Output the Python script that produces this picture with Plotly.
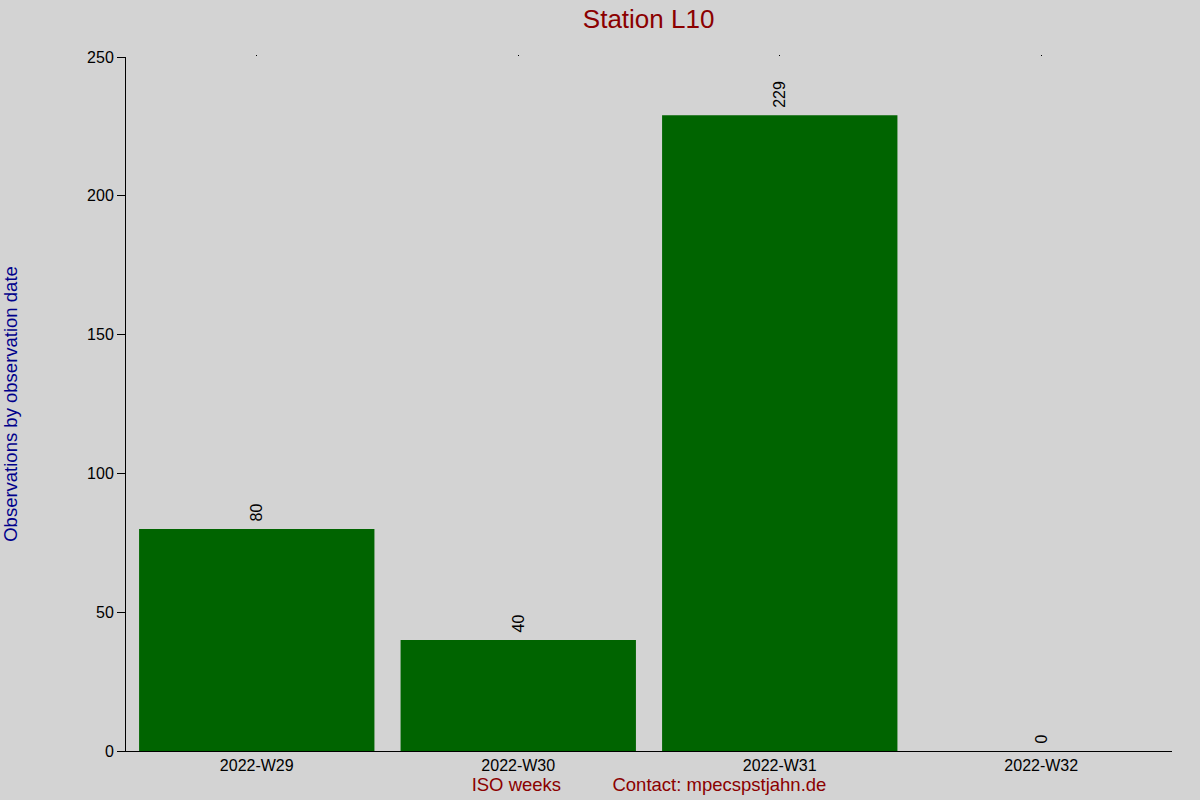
import plotly.graph_objects as go

categories = ["2022-W29", "2022-W30", "2022-W31", "2022-W32"]
values = [80, 40, 229, 0]
y_ticks = [0, 50, 100, 150, 200, 250]

fig = go.Figure()
fig.add_trace(go.Bar(
    x=categories, y=values, width=0.9,
    marker=dict(color="#006400", line=dict(width=0)),
    text=["\u00a0" + str(v) for v in values], textposition="outside",
    textangle=-90, cliponaxis=False,
    textfont=dict(size=16, color="black", family="Liberation Sans, Arial"),
))
# invisible trace on top axis for small mirrored tick dots
fig.add_trace(go.Scatter(x=categories, y=[None]*4, xaxis="x2", showlegend=False, hoverinfo="skip"))

fig.update_layout(
    width=1200, height=800,
    paper_bgcolor="#d3d3d3", plot_bgcolor="#d3d3d3",
    margin=dict(l=126, r=28, t=57, b=49),
    font=dict(family="Liberation Sans, Arial", size=16, color="black"),
    title=dict(text="Station L10", x=0.5405, xanchor="center", y=0.977, yanchor="middle",
               font=dict(size=26, color="#8b0000")),
    showlegend=False,
    bargap=0.1,
    xaxis=dict(type="category", range=[-0.5, 3.5], showgrid=False, showline=True,
               linecolor="black", linewidth=1, ticks="", tickfont=dict(size=16),
               automargin=False,
               title=dict(text="ISO weeks          Contact: mpecspstjahn.de",
                          font=dict(size=18.5, color="#8b0000"), standoff=4)),
    xaxis2=dict(type="category", range=[-0.5, 3.5], overlaying="x", side="top",
                showgrid=False, showline=False, ticks="outside", ticklen=1,
                tickcolor="black", showticklabels=False, automargin=False),
    yaxis=dict(range=[0, 250], tickvals=y_ticks, showgrid=False, zeroline=False,
               showline=True, linecolor="black", linewidth=1, ticks="outside",
               ticklen=8, tickcolor="black", tickfont=dict(size=16),
               automargin=False,
               title=dict(text="Observations by observation date",
                          font=dict(size=18.5, color="#00008b"), standoff=68)),
)

fig.write_html("out.html", config={"displayModeBar": False},
               post_script="document.body.style.margin='0';document.body.style.background='#d3d3d3';")
